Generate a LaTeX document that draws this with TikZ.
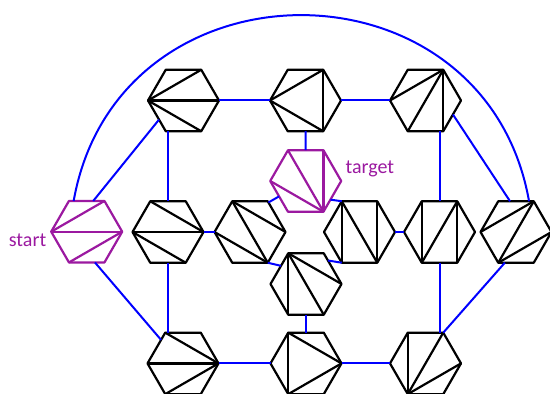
\documentclass[tikz,border=0pt]{standalone}
\usepackage{fontspec}
\setmainfont{Carlito}
\usepackage{tikz}
\usetikzlibrary{shapes.geometric}
\definecolor{hilite}{RGB}{155,25,160}
% diagonals of one triangulation, given as corner pairs
\newcommand\diags[3][black]{\foreach \p/\q in {#3} \draw[line width=1.1pt, line join=round, #1] (#2.corner \p) -- (#2.corner \q);}

\begin{document}
\begin{tikzpicture}[
  x=0.5pt, y=-0.5pt,
  hexa/.style={draw, regular polygon, regular polygon sides=6, minimum size=35.5pt,
               inner sep=0pt, outer sep=0pt, line width=1.1pt, line join=round},
  goal/.style={hexa, draw=hilite},
  edge/.style={blue, line width=1pt},
  lbl/.style={text=hilite, inner sep=0pt},
]
\useasboundingbox (0,0) rectangle (550,394);
% ---------------- triangulations ----------------
\node[hexa] (t1) at (183.5,100.5) {};
\node[hexa] (t2) at (305.5,100.5) {};
\node[hexa] (t3) at (425.5,100.5) {};
\node[goal] (target) at (305.7,181) {};
\node[goal] (start) at (86.7,231.7) {};
\node[hexa] (m1) at (168,232) {};
\node[hexa] (m2) at (250,232) {};
\node[hexa] (m3) at (359.5,232) {};
\node[hexa] (m4) at (439.5,232) {};
\node[hexa] (m5) at (516,232) {};
\node[hexa] (mid) at (306,284) {};
\node[hexa] (b1) at (183,363.4) {};
\node[hexa] (b2) at (306,363.4) {};
\node[hexa] (b3) at (425.5,363.4) {};

\diags{t1}{3/1,3/6,3/5}
\diags{t2}{3/1,3/5,1/5}
\diags{t3}{1/3,1/4,1/5}
\diags[hilite]{target}{5/2,5/1,5/3}
\diags[hilite]{start}{3/1,3/6,4/6}
\diags{m1}{2/6,3/6,3/5}
\diags{m2}{2/6,2/5,3/5}
\diags{m3}{2/4,2/5,1/5}
\diags{m4}{2/4,1/4,1/5}
\diags{m5}{3/1,1/4,4/6}
\diags{mid}{2/4,2/5,2/6}
\diags{b1}{6/2,6/3,6/4}
\diags{b2}{2/4,2/6,4/6}
\diags{b3}{4/2,4/1,4/6}

\node[lbl, anchor=base east] (startlbl) at ([xshift=-2.3pt,yshift=-7.6pt]start.west) {start};
\node[lbl, anchor=base west] (targetlbl) at ([xshift=2pt,yshift=3.5pt]target.east) {target};

% ---------------- flips ----------------
\draw[edge] (t1) -- (t2);
\draw[edge] (t2) -- (t3);
\draw[edge] (start.78) -- (t1.218);
\draw[edge] (m1.north) -- (m1.north |- t1.south);
\draw[edge] (t2) -- (target);
\draw[edge] (m4.north) -- (m4.north |- t3.south);
\draw[edge] (t3.333) -- (m5.101);
\draw[edge] (start.113) .. controls +(22pt,124pt) and +(-22pt,124pt) .. (m5.67);
\draw[edge] (start.285) -- (b1.133);
\draw[edge] (m1) -- (m2);
\draw[edge] (m1.south) -- (m1.south |- b1.north);
\draw[edge] (m2.58) -- (target.210);
\draw[edge] (m2.corner 5) -- (mid.144);
\draw[edge] (target.323) -- (m3.corner 2);
\draw[edge] (m3) -- (m4);
\draw[edge] (m3.corner 4) -- (mid.47);
\draw[edge] (m4.south) -- (m4.south |- b3.north);
\draw[edge] (m5.250) -- (b3.corner 1);
\draw[edge] (mid) -- (b2);
\draw[edge] (b1) -- (b2);
\draw[edge] (b2) -- (b3);
\end{tikzpicture}
\end{document}
